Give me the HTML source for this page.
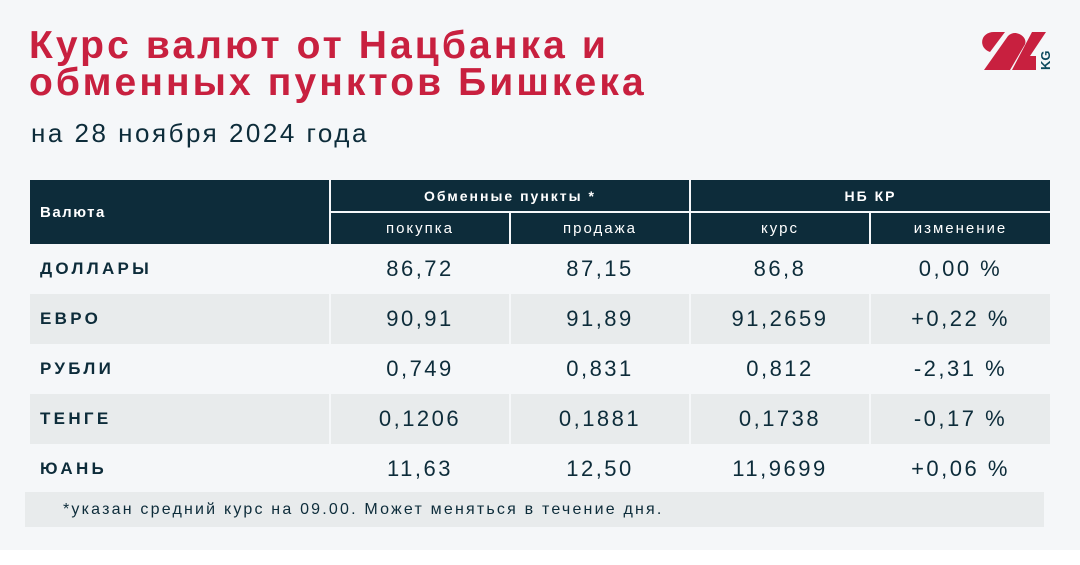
<!DOCTYPE html>
<html><head><meta charset="utf-8"><style>
body{margin:0;width:1080px;height:565px;background:#fff;font-family:"Liberation Sans",sans-serif;position:relative;overflow:hidden}
#bg{position:absolute;left:0;top:0;width:1080px;height:550px;background:#f5f7f9}
.t{position:absolute;left:29px;top:27px;color:#c8203f;font-weight:bold;font-size:39px;line-height:37px;letter-spacing:3.1px}
.s{position:absolute;left:31px;top:118px;color:#0d2c3a;font-size:26px;letter-spacing:2.5px}
.c{position:absolute;box-sizing:border-box;display:flex;align-items:center;justify-content:center;color:#0d2c3a}
.h{background:#0d2c3a;color:#fff;font-size:14px;letter-spacing:2px}
.v{font-size:22px;letter-spacing:2.5px}
.n{justify-content:flex-start;padding-left:10px;font-weight:bold;font-size:17px;letter-spacing:3.3px}
.g{background:#e8ebec}
.l{background:#f5f7f9}
</style></head><body>
<div id="bg"></div>
<div class="t">Курс валют от Нацбанка и<br>обменных пунктов Бишкека</div>
<div class="s">на 28 ноября 2024 года</div>
<svg style="position:absolute;left:978px;top:28px" width="75" height="45" viewBox="0 0 75 45">
<path d="M6 42 L30 8 C38 0 52 10 46 18 L32 42 Z" fill="#c8203f"/>
<path d="M12 24 C0 20 2 4 16 4 L27 4 Z" fill="#c8203f"/>
<path d="M34 42 L54 4 L68 4 L52 28 L58 28 L58 42 Z" fill="#c8203f"/>
<text x="0" y="0" transform="translate(72,42) rotate(-90)" font-family="Liberation Sans" font-weight="bold" font-size="13" fill="#0d4a5e">KG</text>
</svg>
<div class="c h n" style="left:30px;top:180px;width:299px;height:64px;font-size:15px;color:#fff;letter-spacing:1.5px">Валюта</div>
<div class="c h" style="left:331px;top:180px;width:358px;height:31px;font-weight:bold">Обменные пункты *</div>
<div class="c h" style="left:691px;top:180px;width:359px;height:31px;font-weight:bold">НБ КР</div>
<div class="c h" style="left:331px;top:213px;width:178px;height:31px;font-size:15px">покупка</div>
<div class="c h" style="left:511px;top:213px;width:178px;height:31px;font-size:15px">продажа</div>
<div class="c h" style="left:691px;top:213px;width:178px;height:31px;font-size:15px">курс</div>
<div class="c h" style="left:871px;top:213px;width:179px;height:31px;font-size:15px">изменение</div>
<div id="rows"></div>
<script>
var d=[["ДОЛЛАРЫ","86,72","87,15","86,8","0,00 %"],["ЕВРО","90,91","91,89","91,2659","+0,22 %"],["РУБЛИ","0,749","0,831","0,812","-2,31 %"],["ТЕНГЕ","0,1206","0,1881","0,1738","-0,17 %"],["ЮАНЬ","11,63","12,50","11,9699","+0,06 %"]];
var xs=[[30,299],[331,178],[511,178],[691,178],[871,179]],h="";
d.forEach(function(r,i){var y=244+i*50,cl=i%2?"g":"l";r.forEach(function(t,j){h+='<div class="c '+cl+' '+(j?'v':'n')+'" style="left:'+xs[j][0]+'px;top:'+y+'px;width:'+xs[j][1]+'px;height:50px">'+t+'</div>';});});
document.getElementById("rows").innerHTML=h;
</script>
<div class="c" style="left:25px;top:492px;width:1019px;height:35px;background:#e8ebec;justify-content:flex-start;padding-left:38px;font-size:16px;letter-spacing:2.2px">*указан средний курс на 09.00. Может меняться в течение дня.</div>
</body></html>
